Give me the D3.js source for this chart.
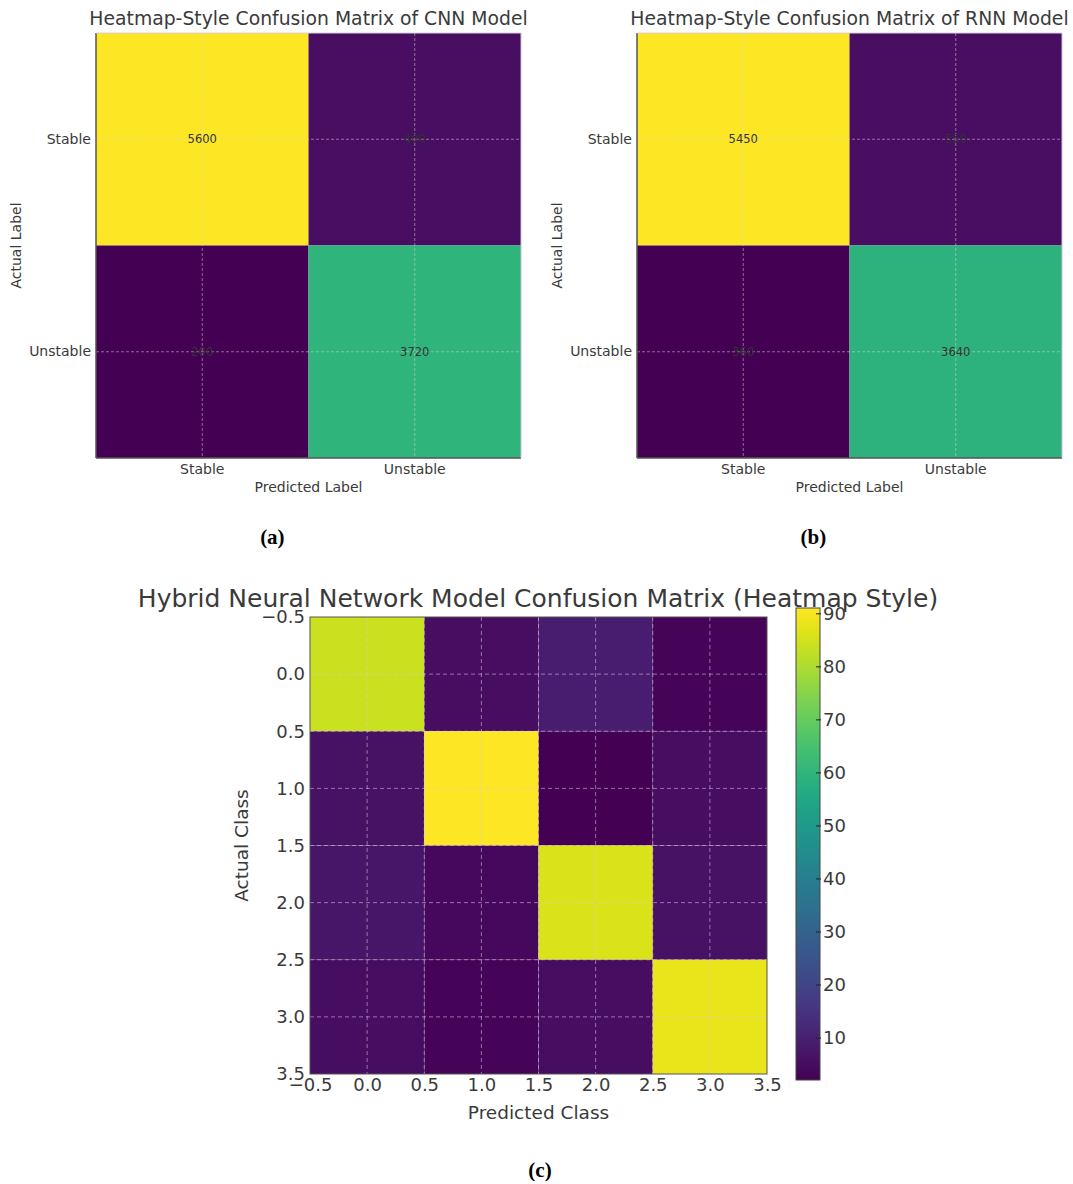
<!DOCTYPE html>
<html>
<head>
<meta charset="utf-8">
<script src="https://cdn.jsdelivr.net/npm/d3@7"></script>
<style>
  body { margin: 0; background: #fff; }
  svg { display: block; font-family: "DejaVu Sans", sans-serif; }
</style>
</head>
<body>
<svg id="chart" width="1073" height="1184"></svg>
<script>
// data
var binaryLabels = ["Stable", "Unstable"];
var cnnMatrix = [[5600, 400], [200, 3720]];
var rnnMatrix = [[5450, 550], [360, 3640]];
var hybridClasses = [0, 1, 2, 3];
var hybridMatrix = [
  [84, 5, 9, 3],
  [6, 91, 2, 5],
  [7, 4, 86, 6],
  [5, 3, 5, 88]
];
var hybridTicks = [-0.5, 0.0, 0.5, 1.0, 1.5, 2.0, 2.5, 3.0, 3.5];
var colorbarTicks = [10, 20, 30, 40, 50, 60, 70, 80, 90];
var colorbarRange = [2, 91];

var svg = d3.select("#chart");
var textColor = "#3a3a3a";

function fmtTick(v) {
  return (v < 0 ? "\u2212" : "") + Math.abs(v).toFixed(1);
}

// small 2x2 matrix panel
function drawBinary(matrix, title, left, top, letter) {
  var size = 425;
  var flat = matrix[0].concat(matrix[1]);
  var color = d3.scaleSequential(d3.interpolateViridis)
      .domain([d3.min(flat), d3.max(flat)]);
  var x = d3.scaleBand().domain(binaryLabels).range([left, left + size]);
  var y = d3.scaleBand().domain(binaryLabels).range([top, top + size]);

  var g = svg.append("g");
  matrix.forEach(function(row, i) {
    row.forEach(function(v, j) {
      g.append("rect")
        .attr("x", x(binaryLabels[j]))
        .attr("y", y(binaryLabels[i]))
        .attr("width", x.bandwidth())
        .attr("height", y.bandwidth())
        .attr("fill", color(v));
    });
  });

  // grid at tick centers
  binaryLabels.forEach(function(l) {
    var cx = x(l) + x.bandwidth() / 2;
    var cy = y(l) + y.bandwidth() / 2;
    g.append("line").attr("x1", cx).attr("x2", cx).attr("y1", top).attr("y2", top + size)
      .attr("stroke", "#d8d8d8").attr("stroke-opacity", 0.5).attr("stroke-dasharray", "3,2");
    g.append("line").attr("x1", left).attr("x2", left + size).attr("y1", cy).attr("y2", cy)
      .attr("stroke", "#d8d8d8").attr("stroke-opacity", 0.5).attr("stroke-dasharray", "3,2");
  });

  // annotations
  matrix.forEach(function(row, i) {
    row.forEach(function(v, j) {
      g.append("text")
        .attr("x", x(binaryLabels[j]) + x.bandwidth() / 2)
        .attr("y", y(binaryLabels[i]) + y.bandwidth() / 2)
        .attr("dy", "0.35em")
        .attr("text-anchor", "middle")
        .attr("font-size", 11.5)
        .attr("fill", "#333")
        .text(v);
    });
  });

  // spines
  g.append("line").attr("x1", left).attr("x2", left).attr("y1", top).attr("y2", top + size)
    .attr("stroke", "#555").attr("stroke-width", 1.5);
  g.append("line").attr("x1", left).attr("x2", left + size).attr("y1", top + size).attr("y2", top + size)
    .attr("stroke", "#555").attr("stroke-width", 1.5);
  g.append("line").attr("x1", left + size).attr("x2", left + size).attr("y1", top).attr("y2", top + size)
    .attr("stroke", "#c8c0d8").attr("stroke-width", 1);
  g.append("line").attr("x1", left).attr("x2", left + size).attr("y1", top).attr("y2", top)
    .attr("stroke", "#d8d0e0").attr("stroke-width", 1);

  // axes (tick labels only)
  var xAxis = g.append("g").attr("transform", "translate(0," + (top + size) + ")")
    .call(d3.axisBottom(x).tickSize(0).tickPadding(6));
  xAxis.select(".domain").remove();
  xAxis.selectAll("text").attr("font-size", 14).attr("fill", textColor).attr("font-family", "DejaVu Sans");

  var yAxis = g.append("g").attr("transform", "translate(" + left + ",0)")
    .call(d3.axisLeft(y).tickSize(0).tickPadding(5));
  yAxis.select(".domain").remove();
  yAxis.selectAll("text").attr("font-size", 14).attr("fill", textColor).attr("font-family", "DejaVu Sans");

  g.append("text")
    .attr("x", left + size / 2).attr("y", top - 8)
    .attr("text-anchor", "middle").attr("font-size", 18.8).attr("fill", textColor)
    .text(title);
  g.append("text")
    .attr("x", left + size / 2).attr("y", top + size + 34)
    .attr("text-anchor", "middle").attr("font-size", 14).attr("fill", textColor)
    .text("Predicted Label");
  g.append("text")
    .attr("transform", "translate(" + (left - 75) + "," + (top + size / 2) + ") rotate(-90)")
    .attr("text-anchor", "middle").attr("font-size", 14).attr("fill", textColor)
    .text("Actual Label");

  g.append("text")
    .attr("x", left + size * 0.415).attr("y", 544)
    .attr("text-anchor", "middle")
    .attr("font-family", "Liberation Serif, serif").attr("font-weight", "bold").attr("font-size", 21)
    .attr("fill", "#000")
    .text(letter);
}

drawBinary(cnnMatrix, "Heatmap-Style Confusion Matrix of CNN Model", 96, 33, "(a)");
drawBinary(rnnMatrix, "Heatmap-Style Confusion Matrix of RNN Model", 637, 33, "(b)");

// hybrid 4x4 panel
function drawHybrid() {
  var left = 310, top = 617, size = 457;
  var x = d3.scaleLinear().domain([-0.5, 3.5]).range([left, left + size]);
  var y = d3.scaleLinear().domain([-0.5, 3.5]).range([top, top + size]);
  var color = d3.scaleSequential(d3.interpolateViridis).domain(colorbarRange);
  var g = svg.append("g");

  hybridMatrix.forEach(function(row, i) {
    row.forEach(function(v, j) {
      g.append("rect")
        .attr("x", x(hybridClasses[j] - 0.5))
        .attr("y", y(hybridClasses[i] - 0.5))
        .attr("width", x(1) - x(0))
        .attr("height", y(1) - y(0))
        .attr("fill", color(v));
    });
  });

  hybridTicks.slice(1, -1).forEach(function(t) {
    g.append("line").attr("x1", x(t)).attr("x2", x(t)).attr("y1", top).attr("y2", top + size)
      .attr("stroke", "#d8c8e8").attr("stroke-opacity", 0.55).attr("stroke-dasharray", "4,3");
    g.append("line").attr("x1", left).attr("x2", left + size).attr("y1", y(t)).attr("y2", y(t))
      .attr("stroke", "#d8c8e8").attr("stroke-opacity", 0.55).attr("stroke-dasharray", "4,3");
  });

  g.append("rect").attr("x", left).attr("y", top).attr("width", size).attr("height", size)
    .attr("fill", "none").attr("stroke", "#555").attr("stroke-width", 1);

  var xAxis = g.append("g").attr("transform", "translate(0," + (top + size) + ")")
    .call(d3.axisBottom(x).tickValues(hybridTicks).tickFormat(fmtTick).tickSize(0).tickPadding(4));
  xAxis.select(".domain").remove();
  xAxis.selectAll("text").attr("font-size", 18).attr("fill", textColor).attr("font-family", "DejaVu Sans");

  var yAxis = g.append("g").attr("transform", "translate(" + left + ",0)")
    .call(d3.axisLeft(y).tickValues(hybridTicks).tickFormat(fmtTick).tickSize(0).tickPadding(5));
  yAxis.select(".domain").remove();
  yAxis.selectAll("text").attr("font-size", 18).attr("fill", textColor).attr("font-family", "DejaVu Sans");

  g.append("text")
    .attr("x", 538).attr("y", 607)
    .attr("text-anchor", "middle").attr("font-size", 25).attr("fill", textColor)
    .text("Hybrid Neural Network Model Confusion Matrix (Heatmap Style)");
  g.append("text")
    .attr("x", left + size / 2).attr("y", 1119)
    .attr("text-anchor", "middle").attr("font-size", 18.5).attr("fill", textColor)
    .text("Predicted Class");
  g.append("text")
    .attr("transform", "translate(248," + (top + size / 2) + ") rotate(-90)")
    .attr("text-anchor", "middle").attr("font-size", 18.5).attr("fill", textColor)
    .text("Actual Class");

  // colorbar
  var cbLeft = 796, cbWidth = 24, cbTop = 608, cbBottom = 1080;
  var cy = d3.scaleLinear().domain(colorbarRange).range([cbBottom, cbTop]);
  var defs = svg.append("defs");
  var grad = defs.append("linearGradient").attr("id", "viridis")
    .attr("x1", 0).attr("y1", 1).attr("x2", 0).attr("y2", 0);
  d3.range(0, 1.0001, 0.05).forEach(function(t) {
    grad.append("stop").attr("offset", t).attr("stop-color", d3.interpolateViridis(t));
  });
  g.append("rect").attr("x", cbLeft).attr("y", cbTop).attr("width", cbWidth).attr("height", cbBottom - cbTop)
    .attr("fill", "url(#viridis)").attr("stroke", "#444").attr("stroke-width", 1);
  var cbAxis = g.append("g").attr("transform", "translate(" + (cbLeft + cbWidth - 4) + ",0)")
    .call(d3.axisRight(cy).tickValues(colorbarTicks).tickSize(5).tickPadding(2));
  cbAxis.select(".domain").remove();
  cbAxis.selectAll("line").attr("stroke", "#222");
  cbAxis.selectAll("text").attr("font-size", 18).attr("fill", textColor).attr("font-family", "DejaVu Sans");

  g.append("text")
    .attr("x", 540).attr("y", 1177)
    .attr("text-anchor", "middle")
    .attr("font-family", "Liberation Serif, serif").attr("font-weight", "bold").attr("font-size", 21)
    .attr("fill", "#000")
    .text("(c)");
}

drawHybrid();
</script>
</body>
</html>
